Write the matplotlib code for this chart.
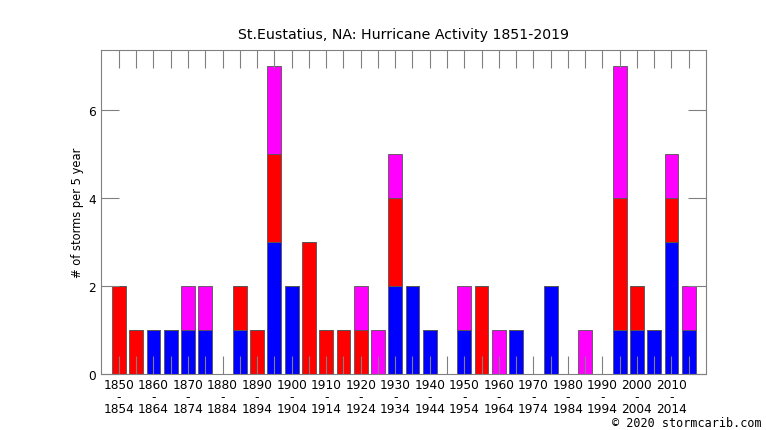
import numpy as np
import matplotlib
matplotlib.use('Agg')
import matplotlib.pyplot as plt

# 5-year bins 1850-2015
starts = list(range(1850, 2020, 5))
# counts per bin: blue (bottom), red (middle), magenta (top)
blue = [0, 0, 1, 1, 1, 1, 0, 1, 0, 3, 2, 0, 0, 0, 0, 0, 2,
        2, 1, 0, 1, 0, 0, 1, 0, 2, 0, 0, 0, 1, 1, 1, 3, 1]
red = [2, 1, 0, 0, 0, 0, 0, 1, 1, 2, 0, 3, 1, 1, 1, 0, 2,
       0, 0, 0, 0, 2, 0, 0, 0, 0, 0, 0, 0, 3, 1, 0, 1, 0]
magenta = [0, 0, 0, 0, 1, 1, 0, 0, 0, 2, 0, 0, 0, 0, 1, 1, 1,
           0, 0, 0, 1, 0, 1, 0, 0, 0, 0, 1, 0, 3, 0, 0, 1, 1]
yticks = [0, 2, 4, 6]

blue = np.array(blue)
red = np.array(red)
magenta = np.array(magenta)
x = np.arange(len(starts))

plt.rcParams['font.family'] = 'DejaVu Sans'
fig = plt.figure(figsize=(7.66, 4.31), dpi=100)
ax = fig.add_axes([101/766, 1 - 375/431, 605/766, 324/431])

w = 0.8
ec = '#555555'
ax.bar(x, blue, w, color='#0000ff', edgecolor=ec, linewidth=0.6)
ax.bar(x, red, w, bottom=blue, color='#ff0000', edgecolor=ec, linewidth=0.6)
ax.bar(x, magenta, w, bottom=blue + red, color='#ff00ff', edgecolor=ec, linewidth=0.6)

ax.set_xlim(-1.04, len(starts))
ax.set_ylim(0, 7.36)

ax.set_xticks(x)
ax.set_xticklabels(['%d\n-\n%d' % (s, s + 4) if s % 10 == 0 else '' for s in starts],
                   linespacing=0.9)
ax.set_yticks(yticks)
ax.tick_params(axis='both', direction='in', length=13, width=0.8, color='#808080',
               labelsize=8.7, top=True, right=True, labelright=False)
ax.tick_params(axis='x', pad=3)
for s in ax.spines.values():
    s.set_color('#808080')
    s.set_linewidth(0.8)

ax.set_ylabel('# of storms per 5 year', fontsize=8.3, labelpad=3)
fig.text(403/766, 1 - 35/431, 'St.Eustatius, NA: Hurricane Activity 1851-2019',
         ha='center', va='center', fontsize=10.2)
fig.text(762/766, 1 - 424/431, '\u00a9 2020 stormcarib.com', ha='right', va='center',
         family='DejaVu Sans Mono', fontsize=8.5)

fig.savefig('out.png', dpi=100)
